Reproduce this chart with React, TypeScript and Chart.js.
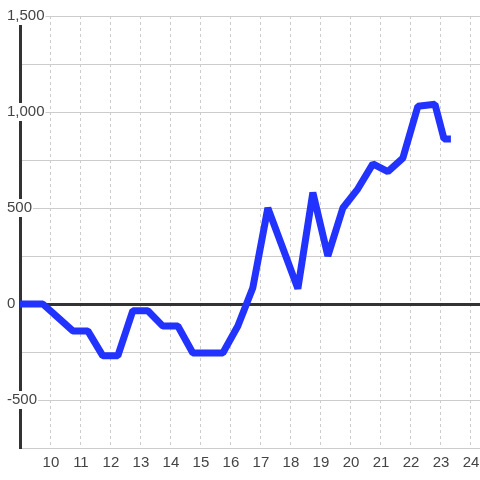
import React, { useEffect, useRef } from "react";
import { Chart, registerables } from "chart.js";

Chart.register(...registerables);

// Hour of day (x) and value (y)
const hours = [8.73, 9.23, 9.73, 10.23, 10.73, 11.23, 11.73, 12.23, 12.73, 13.23, 13.73, 14.23, 14.73, 15.23, 15.73, 16.23, 16.73, 17.23, 17.73, 18.23, 18.73, 19.23, 19.73, 20.23, 20.73, 21.23, 21.73, 22.23, 22.8, 23.1, 23.33];
const values = [0, 0, 0, -70, -140, -140, -270, -270, -35, -35, -115, -115, -255, -255, -255, -115, 85, 500, 290, 80, 580, 250, 500, 600, 730, 690, 760, 1030, 1040, 860, 860];

const xMin = 8.97;
const xMax = 24.3;
const yMin = -750;
const yMax = 1500;
const yStep = 250;
const yLabelStep = 500;

const FONT = { family: "'Liberation Sans', Arial, sans-serif", size: 15 };
const TEXT = "#444";

export default function App() {
  const ref = useRef<HTMLCanvasElement>(null);

  useEffect(() => {
    if (!ref.current) return;
    const chart = new Chart(ref.current, {
      type: "line",
      data: {
        datasets: [
          {
            data: hours.map((h, i) => ({ x: h, y: values[i] })),
            borderColor: "#2233ff",
            borderWidth: 7,
            pointRadius: 0,
            tension: 0,
            borderJoinStyle: "bevel",
            borderCapStyle: "butt",
          },
        ],
      },
      options: {
        responsive: false,
        animation: false,
        layout: { padding: { left: 6, top: 16, right: 0, bottom: 0 } },
        plugins: { legend: { display: false }, tooltip: { enabled: false } },
        scales: {
          x: {
            type: "linear",
            min: xMin,
            max: xMax,
            afterFit: (s: any) => {
              s.height = 32;
              s.paddingLeft = 0;
              s.paddingRight = 0;
            },
            grid: { color: "#ccc", lineWidth: 1, drawTicks: false },
            border: { color: "#ccc", width: 1, dash: [3, 3] },
            ticks: {
              stepSize: 1,
              includeBounds: false,
              autoSkip: false,
              maxRotation: 0,
              padding: 6,
              font: FONT,
              color: TEXT,
              callback: (v: any) => (v >= 10 ? String(v) : ""),
            },
          },
          y: {
            min: yMin,
            max: yMax,
            afterFit: (s: any) => {
              s.width = 14;
              s.paddingTop = 0;
              s.paddingBottom = 0;
            },
            grid: {
              color: (c: any) => (c.tick && c.tick.value === 0 ? "#333" : "#ccc"),
              lineWidth: (c: any) => (c.tick && c.tick.value === 0 ? 3 : 1),
              drawTicks: false,
            },
            border: { color: "#333", width: 3 },
            ticks: {
              stepSize: yStep,
              mirror: true,
              crossAlign: "near",
              padding: -13,
              z: 1,
              showLabelBackdrop: true,
              backdropColor: "#fff",
              backdropPadding: { top: 0, bottom: 0, left: 1, right: 1 },
              font: FONT,
              color: TEXT,
              callback: (v: any) =>
                v % yLabelStep === 0 && v > yMin ? Number(v).toLocaleString("en-US") : "",
            },
          },
        },
      },
    });
    return () => chart.destroy();
  }, []);

  return (
    <div style={{ position: "absolute", left: 0, top: 0, width: 480, height: 480, background: "#fff" }}>
      <canvas ref={ref} width={480} height={480} />
    </div>
  );
}
